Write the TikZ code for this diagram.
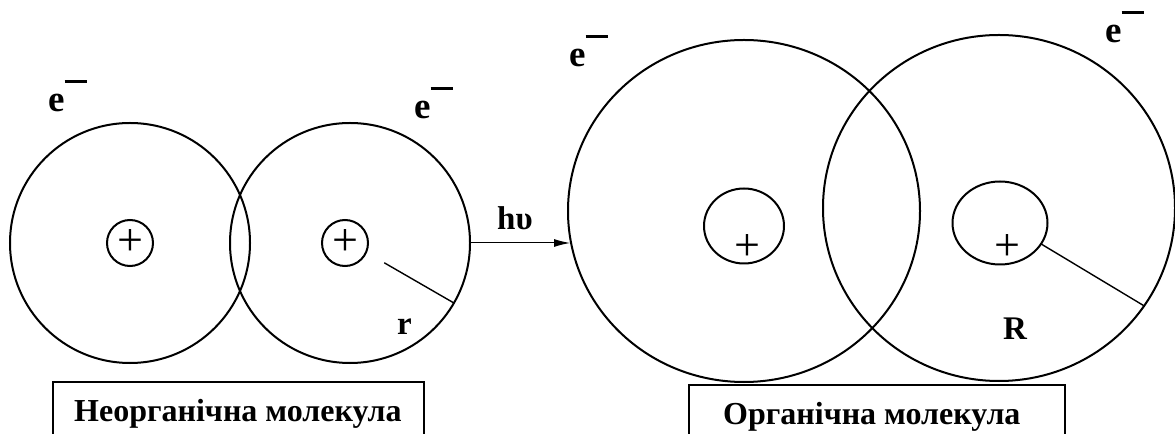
\documentclass[tikz,border=0pt]{standalone}
\usepackage{fontspec}
\setmainfont{Liberation Serif}
\usetikzlibrary{arrows.meta,shapes.geometric,calc}
\newcommand{\elec}{e\raisebox{0.78em}{\rule{0.6em}{0.075em}}}
\begin{document}
\begin{tikzpicture}[x=1bp,y=-1bp,
  orb/.style={draw, circle, inner sep=0pt, outer sep=0pt, line width=2bp},
  core/.style={draw, ellipse, inner sep=0pt, outer sep=0pt, line width=2bp},
  lbl/.style={font=\fontsize{33bp}{38bp}\selectfont\bfseries, inner sep=0pt, anchor=base west},
  caption/.style={font=\fontsize{32bp}{38bp}\selectfont\bfseries, inner sep=0pt, anchor=base west},
  elbl/.style={font=\fontsize{37bp}{40bp}\selectfont\bfseries, inner sep=0pt, anchor=base west},
  plussign/.style={font=\fontsize{46bp}{46bp}\selectfont, inner sep=0pt},
  frame/.style={draw, line width=2bp, inner sep=0pt, anchor=north west},
  radius line/.style={line width=1.4bp}]
\useasboundingbox (0,0) rectangle (1175,434);

% inorganic molecule
\node[orb, minimum size=240bp] (L1) at (130,243) {};
\node[orb, minimum size=240bp] (L2) at (350,243) {};
\node[orb, minimum size=46bp] (c1) at (130,243) {};
\node[orb, minimum size=46bp] (c2) at (345,243) {};
\node[plussign] (p1) at (130,243) {+};
\node[plussign] (p2) at (345,243) {+};
\draw[radius line] ($(L2)!0.33!(L2.-30)$) coordinate (r0) -- (L2.-30);

% organic molecule
\node[core, minimum width=352bp, minimum height=342bp] (O1) at (744,211) {};
\node[core, minimum width=352bp, minimum height=346bp] (O2) at (999,208) {};
\node[core, minimum width=80bp, minimum height=75bp] (s1) at (744,226) {};
\node[core, minimum width=95bp, minimum height=83bp] (s2) at (1000,223) {};
\node[plussign] (p3) at (747,248) {+};
\node[plussign] (p4) at (1007,248) {+};
\draw[radius line] (s2.-27) -- (O2.-34);

% photon arrow
\coordinate (aend) at (570,243);
\draw[line width=1bp, -{Latex[length=16bp,width=8bp]}] (L2.east) -- (aend);
\node[lbl] (hv) at (497,230) {hυ};

% electron labels
\node[elbl] (e1) at (48,112) {\elec};
\node[elbl] (e2) at (414,119) {\elec};
\node[elbl] (e3) at (569,67) {\elec};
\node[elbl] (e4) at (1105,43) {\elec};

% radius labels
\node[lbl] (rl) at (397,335) {r};
\node[lbl] (Rl) at (1003,340) {R};

% caption boxes
\node[frame, minimum width=371bp, minimum height=80bp] (b1) at (52,381) {};
\node[frame, minimum width=376bp, minimum height=80bp] (b2) at (688,384) {};
\node[caption] (t1) at (74,422) {Неорганічна молекула};
\node[caption] (t2) at (723,425) {Органічна молекула};
\end{tikzpicture}
\end{document}
